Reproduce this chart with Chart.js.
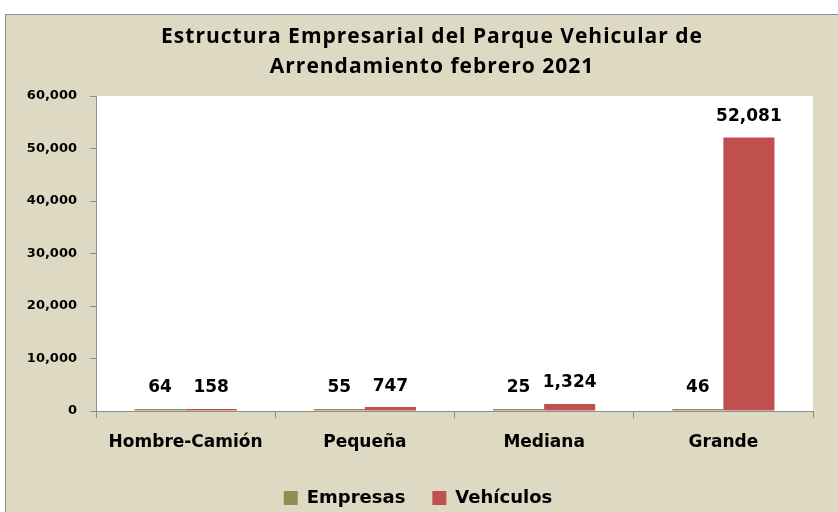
<!DOCTYPE html>
<html>
<head>
<meta charset="utf-8">
<script src="https://cdn.jsdelivr.net/npm/chart.js@4/dist/chart.umd.min.js"></script>
<style>
  html, body { margin: 0; padding: 0; background: #ffffff; width: 838px; height: 512px; overflow: hidden; }
  #frame { position: absolute; left: 5px; top: 14px; width: 833px; height: 498px; background: #ddd9c3;
           border-left: 1px solid #8e8e8e; border-top: 1px solid #8e8e8e; box-sizing: border-box; overflow: hidden; }
  #wrap { position: absolute; left: 0; top: 0; width: 832px; height: 502px; }
</style>
</head>
<body>
<div id="frame"><div id="wrap"><canvas id="c"></canvas></div></div>
<script>
const titleLines = ['Estructura Empresarial del Parque Vehicular de', 'Arrendamiento febrero 2021'];
const categories = ['Hombre-Camión', 'Pequeña', 'Mediana', 'Grande'];
const empresas = [64, 55, 25, 46];
const vehiculos = [158, 747, 1324, 52081];
const seriesNames = ['Empresas', 'Vehículos'];
const yMax = 60000;
const yStep = 10000;

const labelFont = "bold 17px 'DejaVu Sans'";

const plotBg = {
  id: 'plotBg',
  beforeDraw(chart) {
    const {ctx, chartArea: a} = chart;
    ctx.save();
    ctx.fillStyle = '#ffffff';
    ctx.fillRect(a.left, a.top, a.right - a.left, a.bottom - a.top);
    ctx.restore();
  }
};

const titleDraw = {
  id: 'titleDraw',
  afterDraw(chart) {
    const ctx = chart.ctx;
    ctx.save();
    ctx.font = "bold 21px 'Open Sans'";
    try { ctx.letterSpacing = '1px'; } catch (e) {}
    ctx.fillStyle = '#000000';
    ctx.textAlign = 'center';
    ctx.textBaseline = 'alphabetic';
    const cx = 426;
    ctx.fillText(titleLines[0], cx, 28);
    ctx.fillText(titleLines[1], cx, 58);
    ctx.restore();
  }
};

const valueLabels = {
  id: 'valueLabels',
  afterDatasetsDraw(chart) {
    const ctx = chart.ctx;
    ctx.save();
    ctx.font = labelFont;
    ctx.fillStyle = '#000000';
    ctx.textAlign = 'center';
    ctx.textBaseline = 'middle';
    chart.data.datasets.forEach((ds, di) => {
      const meta = chart.getDatasetMeta(di);
      meta.data.forEach((bar, i) => {
        const v = ds.data[i];
        ctx.fillText(v.toLocaleString('en-US'), bar.x, bar.y - 21);
      });
    });
    ctx.restore();
  }
};

new Chart(document.getElementById('c'), {
  type: 'bar',
  data: {
    labels: categories,
    datasets: [
      { label: seriesNames[0], data: empresas, backgroundColor: '#948a54', barPercentage: 1.0, categoryPercentage: 0.57, minBarLength: 2 },
      { label: seriesNames[1], data: vehiculos, backgroundColor: '#c0504d', barPercentage: 1.0, categoryPercentage: 0.57, minBarLength: 2 }
    ]
  },
  options: {
    responsive: true,
    maintainAspectRatio: false,
    animation: false,
    locale: 'en-US',
    layout: { padding: { left: 0, right: 8, top: 81, bottom: 0 } },
    plugins: {
      title: { display: false },
      legend: {
        display: true,
        position: 'bottom',
        labels: {
          color: '#000000',
          font: { family: 'DejaVu Sans', weight: 'bold', size: 18 },
          boxWidth: 14,
          boxHeight: 14,
          padding: 27
        }
      },
      tooltip: { enabled: false }
    },
    scales: {
      x: {
        afterFit(scale) { scale.height = 51; },
        grid: { display: true, offset: true, drawOnChartArea: false, drawTicks: true, tickLength: 7, color: '#8e8e8e' },
        border: { display: true, color: '#8e8e8e', width: 1 },
        ticks: { color: '#000000', font: { family: 'DejaVu Sans', weight: 'bold', size: 17 }, padding: 14 }
      },
      y: {
        min: 0,
        max: yMax,
        afterFit(scale) { scale.width = 90; },
        grid: { display: true, drawOnChartArea: false, drawTicks: true, tickLength: 6, color: '#8e8e8e' },
        border: { display: true, color: '#8e8e8e', width: 1 },
        ticks: { stepSize: yStep, color: '#000000', font: { family: 'DejaVu Sans', weight: 'bold', size: 13 }, padding: 13 }
      },
      yPad: {
        position: 'right',
        min: 0,
        max: 1,
        afterFit(scale) { scale.width = 17; },
        grid: { display: false },
        border: { display: false },
        ticks: { display: false }
      }
    }
  },
  plugins: [plotBg, valueLabels, titleDraw]
});
</script>
</body>
</html>
